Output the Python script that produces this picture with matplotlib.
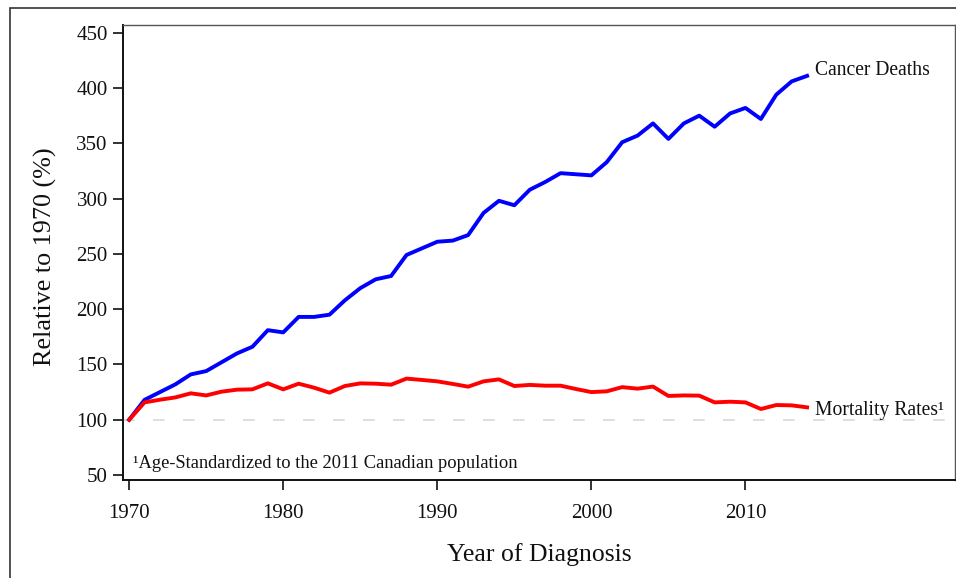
import matplotlib.pyplot as plt
from matplotlib.patches import Rectangle

plt.rcParams['font.family'] = ['Liberation Serif', 'DejaVu Serif']

# Datos ---------------------------------------------------------------
years = list(range(1970, 2015))
cancer_deaths = [100, 118, 125, 132, 141, 144, 152, 160, 166, 181,
                 179, 193, 193, 195, 208, 219, 227, 230, 249, 255,
                 261, 262, 267, 287, 298, 294, 308, 315, 323, 322,
                 321, 333, 351, 357, 368, 354, 368, 375, 365, 377,
                 382, 372, 394, 406, 411]
mortality_rates = [100, 115.7, 118.1, 120.2, 123.9, 122, 125.4, 127.2, 127.5, 132.9,
                   127.5, 132.6, 129, 124.5, 130.5, 132.9, 132.6, 131.7, 137.2, 136,
                   134.7, 132.4, 129.9, 134.7, 136.5, 130.5, 131.5, 130.8, 130.8, 127.8,
                   125, 125.7, 129.5, 128.1, 130, 121.5, 122, 121.8, 115.7, 116.3,
                   115.7, 109.7, 113.3, 113, 111.2]
yticks = [50, 100, 150, 200, 250, 300, 350, 400, 450]
xticks = [1970, 1980, 1990, 2000, 2010]

# Figura --------------------------------------------------------------
fig = plt.figure(figsize=(9.56, 5.78), dpi=100)
ax = fig.add_axes([123 / 956, 1 - 480 / 578, 832 / 956, 455 / 578])

# marco exterior
fig.patches.append(Rectangle((10 / 956, -0.1), 1.2, 1 - 8 / 578 + 0.1,
                             transform=fig.transFigure, fill=False,
                             edgecolor='#333333', linewidth=1.2))

ax.axhline(100, color='#d9d9d9', linewidth=1.2, dashes=(7, 11), zorder=1)
ax.plot(years, cancer_deaths, color='#0000ff', linewidth=2.8, zorder=3)
ax.plot(years, mortality_rates, color='#ff0000', linewidth=2.8, zorder=3)

ax.annotate('Cancer Deaths', xy=(years[-1], cancer_deaths[-1]),
            xytext=(6, 4), textcoords='offset points', va='center', ha='left',
            fontsize=14.1, color='#111111')
ax.annotate('Mortality Rates¹', xy=(years[-1], mortality_rates[-1]),
            xytext=(6, -2), textcoords='offset points', va='center', ha='left',
            fontsize=14.1, color='#111111')
ax.text(0.012, 0.037, '¹Age-Standardized to the 2011 Canadian population',
        transform=ax.transAxes, fontsize=13.3, va='center', ha='left', color='#111111')

ax.set_xlim(1969.6, 2023.6)
ax.set_ylim(45.5, 457)
ax.set_xticks(xticks)
ax.set_yticks(yticks)
ax.tick_params(axis='both', direction='out', length=7, width=1.2, labelsize=15,
               colors='#111111')
ax.tick_params(axis='x', pad=10)
ax.tick_params(axis='y', pad=4)

for s in ['left', 'bottom']:
    ax.spines[s].set_linewidth(1.4)
    ax.spines[s].set_color('#111111')
for s in ['top', 'right']:
    ax.spines[s].set_linewidth(1.0)
    ax.spines[s].set_color('#555555')

ax.set_xlabel('Year of Diagnosis', fontsize=18.5, color='#111111')
ax.set_ylabel('Relative to 1970 (%)', fontsize=18.8, color='#111111')
ax.xaxis.set_label_coords(0.5, -0.138)
ax.yaxis.set_label_coords(-0.079, 0.491)

fig.savefig('out.png', dpi=100)
